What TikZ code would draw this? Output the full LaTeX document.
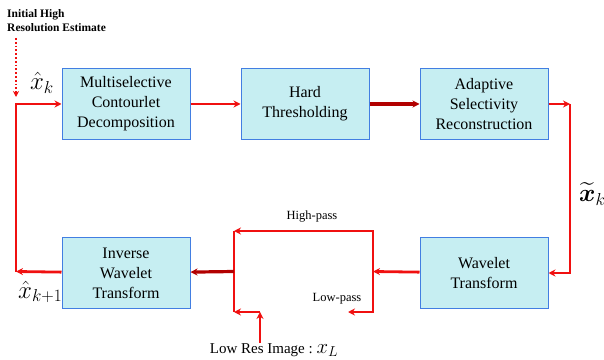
\documentclass[tikz,border=0pt]{standalone}
\usepackage{amsmath}
\usepackage{fontspec}
\setmainfont{Liberation Serif}
\usetikzlibrary{positioning,arrows.meta}
\definecolor{boxfill}{RGB}{198,238,242}
\definecolor{boxline}{RGB}{66,126,226}
\definecolor{flowred}{RGB}{240,16,16}
\definecolor{darkred}{RGB}{178,0,0}

\begin{document}
\begin{tikzpicture}[x=1pt, y=1pt, node distance=50pt,
  block/.style={rectangle, minimum width=128pt, minimum height=71pt, text centered, align=center, draw=boxline, line width=1pt, fill=boxfill, font=\fontsize{16}{20}\selectfont},
  flow/.style={-{Stealth[length=7pt,width=7pt]}, draw=flowred, line width=2.8pt},
  darkflow/.style={-{Stealth[length=7pt,width=7pt]}, draw=darkred, line width=3.2pt},
  wire/.style={draw=flowred, line width=2.8pt},
  initflow/.style={-{Stealth[length=6pt,width=6pt]}, draw=flowred, line width=1.8pt, dotted},
  mathlabel/.style={font=\fontsize{24}{28}\selectfont, inner sep=0pt},
  smalllabel/.style={font=\fontsize{12.5}{15}\selectfont, inner sep=0pt}]
\useasboundingbox (0,0) rectangle (604,359);

\node (decomp) [block] at (126,255) {Multiselective\\Contourlet\\Decomposition};
\node (thresh) [block, right=of decomp] {Hard\\Thresholding};
\node (recon) [block, right=of thresh] {Adaptive\\Selectivity\\Reconstruction};
\node (wavelet) [block, below=97pt of recon] {Wavelet\\Transform};
\node (inverse) [block, below=97pt of decomp] {Inverse\\Wavelet\\Transform};

\node (init) [anchor=north west, align=left, inner sep=0pt, font=\bfseries\fontsize{11.5}{14}\selectfont] at (7,350) {Initial High\\Resolution Estimate};
\node (xk) [mathlabel] at (42,276) {$\hat{x}_k$};
\node (xknext) [mathlabel, anchor=west] at (18,67) {$\hat{x}_{k+1}$};
\node (xtilde) [mathlabel, anchor=west] at (579,165) {$\widetilde{\boldsymbol{x}}_k$};
\node (highpass) [smalllabel] at (312,142) {High-pass};
\node (lowpass) [smalllabel] at (337,60) {Low-pass};
\node (lowres) [anchor=base, inner sep=0pt, font=\fontsize{15}{18}\selectfont] at (274,6) {Low Res Image :\ {\fontsize{21}{24}\selectfont$x_L$}};

\coordinate (rturn) at (570,255);
\coordinate (split) at (373,87.5);
\coordinate (hp) at (234,128);
\coordinate (lp) at (348,47);
\coordinate (lr) at (234,47);
\coordinate (merge) at (234,87.5);
\coordinate (lrc) at (260,47);
\coordinate (lturn) at (16,87.5);
\coordinate (istart) at (16,321);
\coordinate (iend) at (16,262);

\draw[flow] (decomp) -- (thresh);
\draw[darkflow] (thresh) -- (recon);
\draw[flow] (recon) -- (rturn);
\draw[flow] (rturn) |- (wavelet);
\draw[flow] (wavelet) -- (split);
\draw[flow] (split) |- (hp);
\draw[flow] (split) |- (lp);
\draw[wire] (hp) -- (lr);
\draw[darkflow] (merge) -- (inverse);
\draw[flow] (lowres.north -| lrc) -- (lrc);
\draw[flow] (lrc) -- (lr);
\draw[flow] (inverse) -- (lturn);
\draw[flow] (lturn) |- (decomp);
\draw[initflow] (istart) -- (iend);

\end{tikzpicture}
\end{document}
